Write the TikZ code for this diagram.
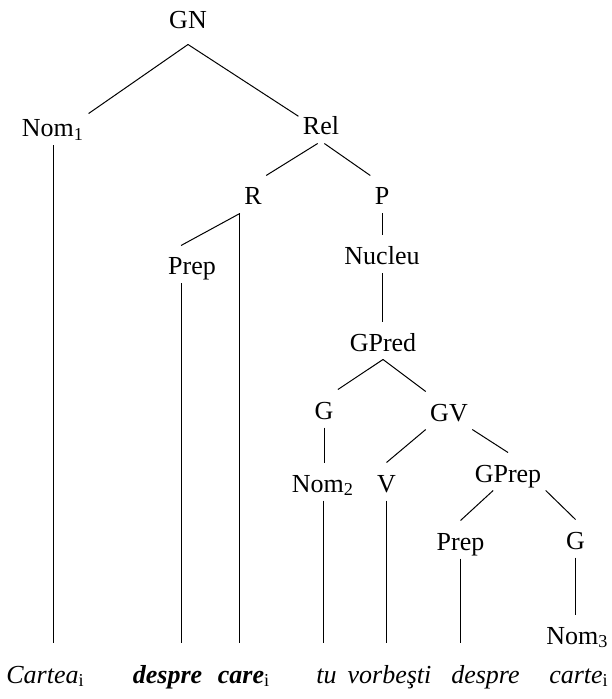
\documentclass[tikz,border=0pt]{standalone}
\usepackage{fontspec}
\setmainfont{Liberation Serif}
\tikzset{
  lbl/.style={font=\fontsize{13}{15}\selectfont, anchor=base, inner xsep=2pt, inner ysep=2pt, text height=12.5pt, text depth=2pt},
  wrd/.style={lbl, inner ysep=7.5pt},
}
\begin{document}
\begin{tikzpicture}[x=0.5pt, y=-0.5pt, line width=0.5pt]
\pgfmathsetmacro{\wy}{683}
\useasboundingbox (0,0) rectangle (611,699);

% categories
\node[lbl, inner ysep=5.5pt] (GN) at (188,29) {GN};
\node[lbl] (Nom1) at (53,137) {Nom\textsubscript{1}};
\node[lbl] (Rel) at (321,135) {Rel};
\node[lbl] (R) at (253,205) {R};
\node[lbl] (P) at (382,205) {P};
\node[lbl] (Prep1) at (192,275) {Prep};
\node[lbl] (Nucleu) at (382,265) {Nucleu};
\node[lbl] (GPred) at (383,351) {GPred};
\node[lbl] (G1) at (324,419) {G};
\node[lbl] (GV) at (449,421) {GV};
\node[lbl] (Nom2) at (323,492) {Nom\textsubscript{2}};
\node[lbl] (V) at (386.5,492) {V};
\node[lbl] (GPrep) at (508,482) {GPrep};
\node[lbl] (Prep2) at (460.5,550) {Prep};
\node[lbl] (G2) at (575.5,549) {G};
\node[lbl] (Nom3) at (577.5,644) {Nom\textsubscript{3}};

% words
\node[wrd] (Cartea) at (45.5,\wy) {\textit{Cartea}\textsubscript{i}};
\node[wrd] (despreA) at (167.5,\wy) {\textbf{\textit{despre}}};
\node[wrd] (care) at (244,\wy) {\textbf{\textit{care}}\textsubscript{i}};
\node[wrd] (tu) at (326.5,\wy) {\textit{tu}};
\node[wrd] (vorbesti) at (389.5,\wy) {\textit{vorbeşti}};
\node[wrd] (despreB) at (485.5,\wy) {\textit{despre}};
\node[wrd] (carte) at (579,\wy) {\textit{carte}\textsubscript{i}};

% branches
\draw (GN.south) -- (Nom1.20);
\draw (GN.south) -- (Rel.160);
\draw (Rel.-100) -- (R.north east);
\draw (Rel.-80) -- (P.north west);
\draw (R.south west) -- (Prep1.120);
\draw (P.south) -- (P.south |- Nucleu.north);
\draw (Nucleu.south) -- (Nucleu.south |- GPred.north);
\draw (GPred.south) -- (G1.north east);
\draw (GPred.south) -- (GV.north west);
\draw (G1.south) -- (G1.south |- Nom2.north);
\draw (GV.south west) -- (V.north);
\draw (GV.south east) -- (GPrep.north);
\draw (GPrep.-128) -- (Prep2.north);
\draw (GPrep.south east) -- (G2.north);
\draw (G2.south) -- (G2.south |- Nom3.north);

% down to the words
\draw (Nom1.south) -- (Nom1.south |- Cartea.north);
\draw (Prep1.-120) -- (Prep1.-120 |- despreA.north);
\draw (R.south west) -- (R.south west |- care.north);
\draw (Nom2.south) -- (Nom2.south |- tu.north);
\draw (V.south) -- (V.south |- vorbesti.north);
\draw (Prep2.south) -- (Prep2.south |- despreB.north);
\end{tikzpicture}
\end{document}
